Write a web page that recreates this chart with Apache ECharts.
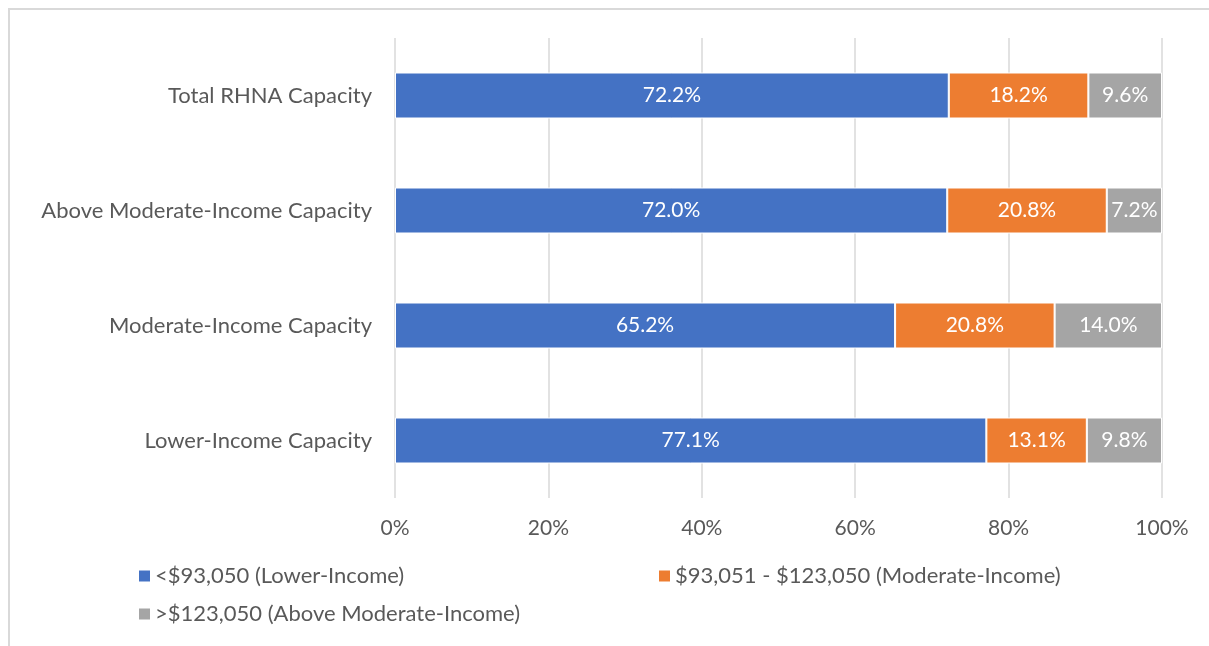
<!DOCTYPE html>
<html>
<head>
<meta charset="utf-8">
<script src="https://cdn.jsdelivr.net/npm/echarts@6/dist/echarts.min.js"></script>
<style>
  html, body { margin: 0; padding: 0; background: #fff; }
  #chart { width: 1209px; height: 646px; }
</style>
</head>
<body>
<div id="chart"></div>
<script>
// Share of capacity by income band, per capacity category (percent)
const categories = [
  'Total RHNA Capacity',
  'Above Moderate-Income Capacity',
  'Moderate-Income Capacity',
  'Lower-Income Capacity'
];
const seriesNames = [
  '<$93,050 (Lower-Income)',
  '$93,051 - $123,050 (Moderate-Income)',
  '>$123,050 (Above Moderate-Income)'
];
const lowerIncome = [72.2, 72.0, 65.2, 77.1];
const moderateIncome = [18.2, 20.8, 20.8, 13.1];
const aboveModerate = [9.6, 7.2, 14.0, 9.8];
const xTicks = [0, 20, 40, 60, 80, 100];

const colors = ['#4472C4', '#ED7D31', '#A5A5A5'];
const FONT = 'Lato, "Liberation Sans", sans-serif';
const TEXT = '#595959';

const chart = echarts.init(document.getElementById('chart'), null, { renderer: 'canvas' });

function barSeries(name, data, color) {
  return {
    name: name,
    type: 'bar',
    stack: 'total',
    data: data,
    barWidth: 46,
    itemStyle: { color: color, borderColor: '#ffffff', borderWidth: 1 },
    label: {
      show: true,
      position: 'inside',
      color: '#ffffff',
      fontFamily: FONT,
      fontSize: 21,
      formatter: p => p.value.toFixed(1) + '%'
    },
    emphasis: { disabled: true }
  };
}

function legendAt(name, left, top) {
  return {
    data: [name],
    left: left,
    top: top,
    orient: 'horizontal',
    icon: 'rect',
    itemWidth: 13,
    itemHeight: 13,
    itemGap: 0,
    padding: 0,
    textStyle: { color: TEXT, fontFamily: FONT, fontSize: 22, padding: [0, 0, 0, -1] },
    selectedMode: false
  };
}

chart.setOption({
  animation: false,
  backgroundColor: '#ffffff',
  color: colors,
  grid: { left: 395, right: 47, top: 38, bottom: 148, containLabel: false },
  xAxis: {
    type: 'value',
    min: xTicks[0],
    max: xTicks[xTicks.length - 1],
    interval: 20,
    axisLine: { show: false },
    axisTick: { show: false },
    splitLine: { show: true, lineStyle: { color: '#d9d9d9', width: 1.5 } },
    axisLabel: {
      color: TEXT,
      fontFamily: FONT,
      fontSize: 21,
      margin: 20,
      formatter: v => v + '%'
    }
  },
  yAxis: {
    type: 'category',
    data: categories,
    inverse: true,
    axisLine: { show: false },
    axisTick: { show: false },
    splitLine: { show: false },
    axisLabel: {
      color: TEXT,
      fontFamily: FONT,
      fontSize: 22,
      margin: 23
    }
  },
  legend: [
    legendAt(seriesNames[0], 137, 565),
    legendAt(seriesNames[1], 657, 565),
    legendAt(seriesNames[2], 137, 603)
  ],
  graphic: [
    { type: 'line', silent: true, shape: { x1: 9, y1: 8, x2: 9, y2: 646 }, style: { stroke: '#d9d9d9', lineWidth: 2 } },
    { type: 'line', silent: true, shape: { x1: 8, y1: 9, x2: 1209, y2: 9 }, style: { stroke: '#d9d9d9', lineWidth: 2 } }
  ],
  series: [
    barSeries(seriesNames[0], lowerIncome, colors[0]),
    barSeries(seriesNames[1], moderateIncome, colors[1]),
    barSeries(seriesNames[2], aboveModerate, colors[2])
  ]
});
</script>
</body>
</html>
